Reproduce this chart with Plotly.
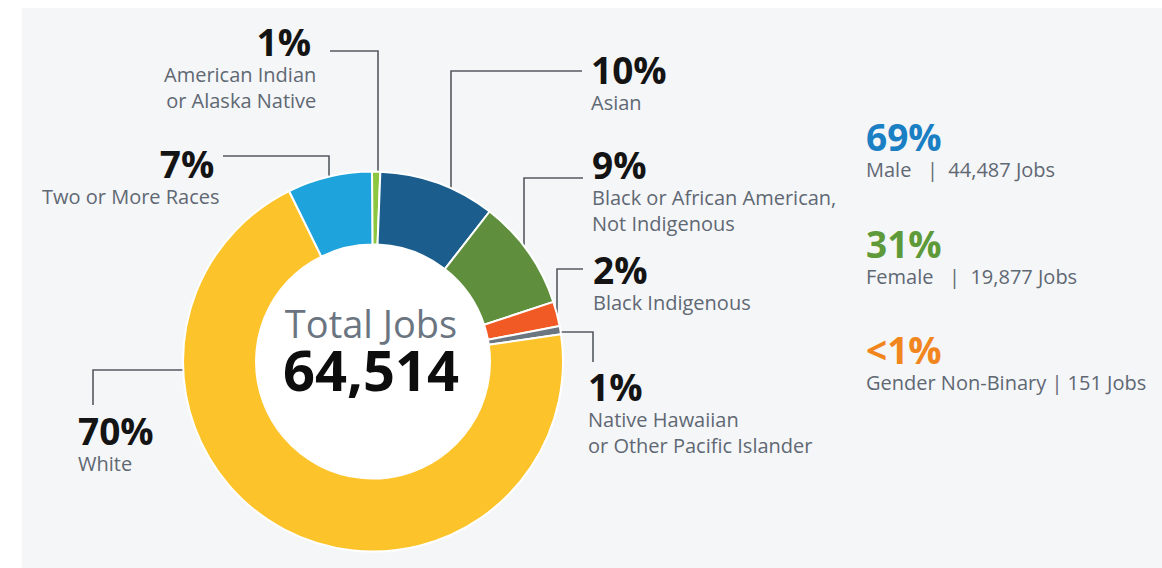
import math
import plotly.graph_objects as go

W, H = 1162, 568

# ---------------- data ----------------
categories = [
    "American Indian or Alaska Native",
    "Asian",
    "Black or African American, Not Indigenous",
    "Black Indigenous",
    "Native Hawaiian or Other Pacific Islander",
    "White",
    "Two or More Races",
]
shares = [0.7, 9.9, 9.4, 2.1, 0.7, 70.0, 7.2]
colors = ["#8dc63f", "#1b5e8e", "#5f8f3d", "#f15a24", "#6b7680", "#fdc32a", "#1fa3dc"]
label_lines = [
    ["American Indian", "or Alaska Native"],
    ["Asian"],
    ["Black or African American,", "Not Indigenous"],
    ["Black Indigenous"],
    ["Native Hawaiian", "or Other Pacific Islander"],
    ["White"],
    ["Two or More Races"],
]

total_jobs = 64514
gender_labels = ["Male", "Female", "Gender Non-Binary"]
gender_jobs = [44487, 19877, 151]
gender_colors = ["#1b7fc4", "#5f9a3a", "#f2861e"]
gender_gaps = [(3, 2), (3, 2), (1, 1)]

# ---------------- geometry (pixels) ----------------
CX, CY, R, R_IN = 373, 361.5, 190, 117

# per category: x of text block, baseline of the percentage, anchor, leader description
# leader kind 'v': horizontal from text to xv at yh, then vertical down to ring
# leader kind 'h': vertical from text (yt) to yh at xv, then horizontal to ring
layout_info = [
    dict(x=317, base=55, anchor="right", leader=("v", 330, 51, 378)),
    dict(x=590, base=83, anchor="left", leader=("v", 582, 71, 451)),
    dict(x=591, base=178, anchor="left", leader=("v", 583, 178, 524)),
    dict(x=592, base=283, anchor="left", leader=("v", 583, 269, 557)),
    dict(x=587, base=400, anchor="left", leader=("h", 362, 332, 593)),
    dict(x=77, base=444, anchor="left", leader=("h", 405, 370, 93)),
    dict(x=221, base=177, anchor="right", leader=("v", 223, 156, 329)),
]

PCT_COLOR = "#141414"
GRAY = "#5f6873"
FONT = "Open Sans"
PCT_SIZE = 37
LAB_SIZE = 20
ASC = 1.069  # Open Sans ascent (em)
NB = "\u00a0"

fig = go.Figure()

fig.update_layout(
    xaxis=dict(range=[0, W], visible=False, domain=[0, 1], fixedrange=True),
    yaxis=dict(range=[H, 0], visible=False, domain=[0, 1], fixedrange=True),
)

fig.add_trace(go.Pie(
    labels=categories,
    values=shares,
    sort=False,
    direction="clockwise",
    rotation=-0.3,
    hole=R_IN / R,
    marker=dict(colors=colors, line=dict(color="#ffffff", width=2)),
    textinfo="none",
    hoverinfo="label+percent",
    showlegend=False,
    domain=dict(x=[(CX - R) / W, (CX + R) / W], y=[1 - (CY + R) / H, 1 - (CY - R) / H]),
))

shapes = [
    dict(type="rect", xref="x", yref="y", x0=22, x1=W, y0=8, y1=H,
         fillcolor="#f5f6f8", line=dict(width=0), layer="below"),
    dict(type="circle", xref="x", yref="y", x0=CX - R_IN, x1=CX + R_IN,
         y0=CY - R_IN, y1=CY + R_IN, fillcolor="#ffffff", line=dict(width=0), layer="below"),
]

annotations = []


def block(x, baseline, head, head_color, lines, anchor):
    pad = NB if anchor == "right" else ""
    text = (f"<span style='font-size:{PCT_SIZE}px;color:{head_color}'><b>{head}</b></span>{pad}<br>"
            + "<br>".join(lines))
    annotations.append(dict(
        x=x, y=baseline - ASC * PCT_SIZE, xref="x", yref="y", text=text,
        showarrow=False, xanchor=anchor, yanchor="top", align=anchor,
        font=dict(family=FONT, size=LAB_SIZE, color=GRAY), borderpad=0,
    ))


for cat_lines, share, info in zip(label_lines, shares, layout_info):
    block(info["x"], info["base"], f"{round(share)}%", PCT_COLOR, cat_lines, info["anchor"])
    kind, a, b, c = info["leader"]
    if kind == "v":
        xt, yh, xv = a, b, c
        yr = CY - math.sqrt(R ** 2 - (xv - CX) ** 2)
        pts = [(xt, yh), (xv, yh), (xv, yr)]
    else:
        yt, yh, xv = a, b, c
        side = 1 if xv > CX else -1
        xr = CX + side * math.sqrt(R ** 2 - (yh - CY) ** 2)
        pts = [(xv, yt), (xv, yh), (xr, yh)]
    fig.add_trace(go.Scatter(
        x=[p[0] for p in pts], y=[p[1] for p in pts], mode="lines",
        line=dict(color="#555a60", width=1.6), hoverinfo="skip", showlegend=False,
    ))

# centre text (one block, baselines 53px apart)
annotations.append(dict(
    x=371, y=337 - ASC * 38, xref="x", yref="y", showarrow=False,
    xanchor="center", yanchor="top", align="center", borderpad=0,
    text=("<span style='font-size:38px;color:#6b7581'>Total Jobs</span><br>"
          f"<span style='font-size:56px;color:#0d0d0d'><b>{total_jobs:,}</b></span>"),
    font=dict(family=FONT, size=41, color="#0d0d0d"),
))

# gender block
g_base = [150, 257, 363]
for lab, jobs, col, (g1, g2), yb in zip(gender_labels, gender_jobs, gender_colors, gender_gaps, g_base):
    pct = jobs / total_jobs * 100
    pct_txt = "&lt;1%" if pct < 1 else f"{round(pct)}%"
    block(865, yb, pct_txt, col, [f"{lab}{NB * g1}|{NB * g2}{jobs:,} Jobs"], "left")

fig.update_layout(
    width=W, height=H,
    margin=dict(l=0, r=0, t=0, b=0),
    paper_bgcolor="#ffffff", plot_bgcolor="rgba(0,0,0,0)",
    shapes=shapes, annotations=annotations,
    showlegend=False,
)

fig.write_html(
    "out.html",
    config={"displayModeBar": False},
    post_script="document.body.style.margin='0';document.body.style.padding='0';document.body.style.overflow='hidden';",
)
